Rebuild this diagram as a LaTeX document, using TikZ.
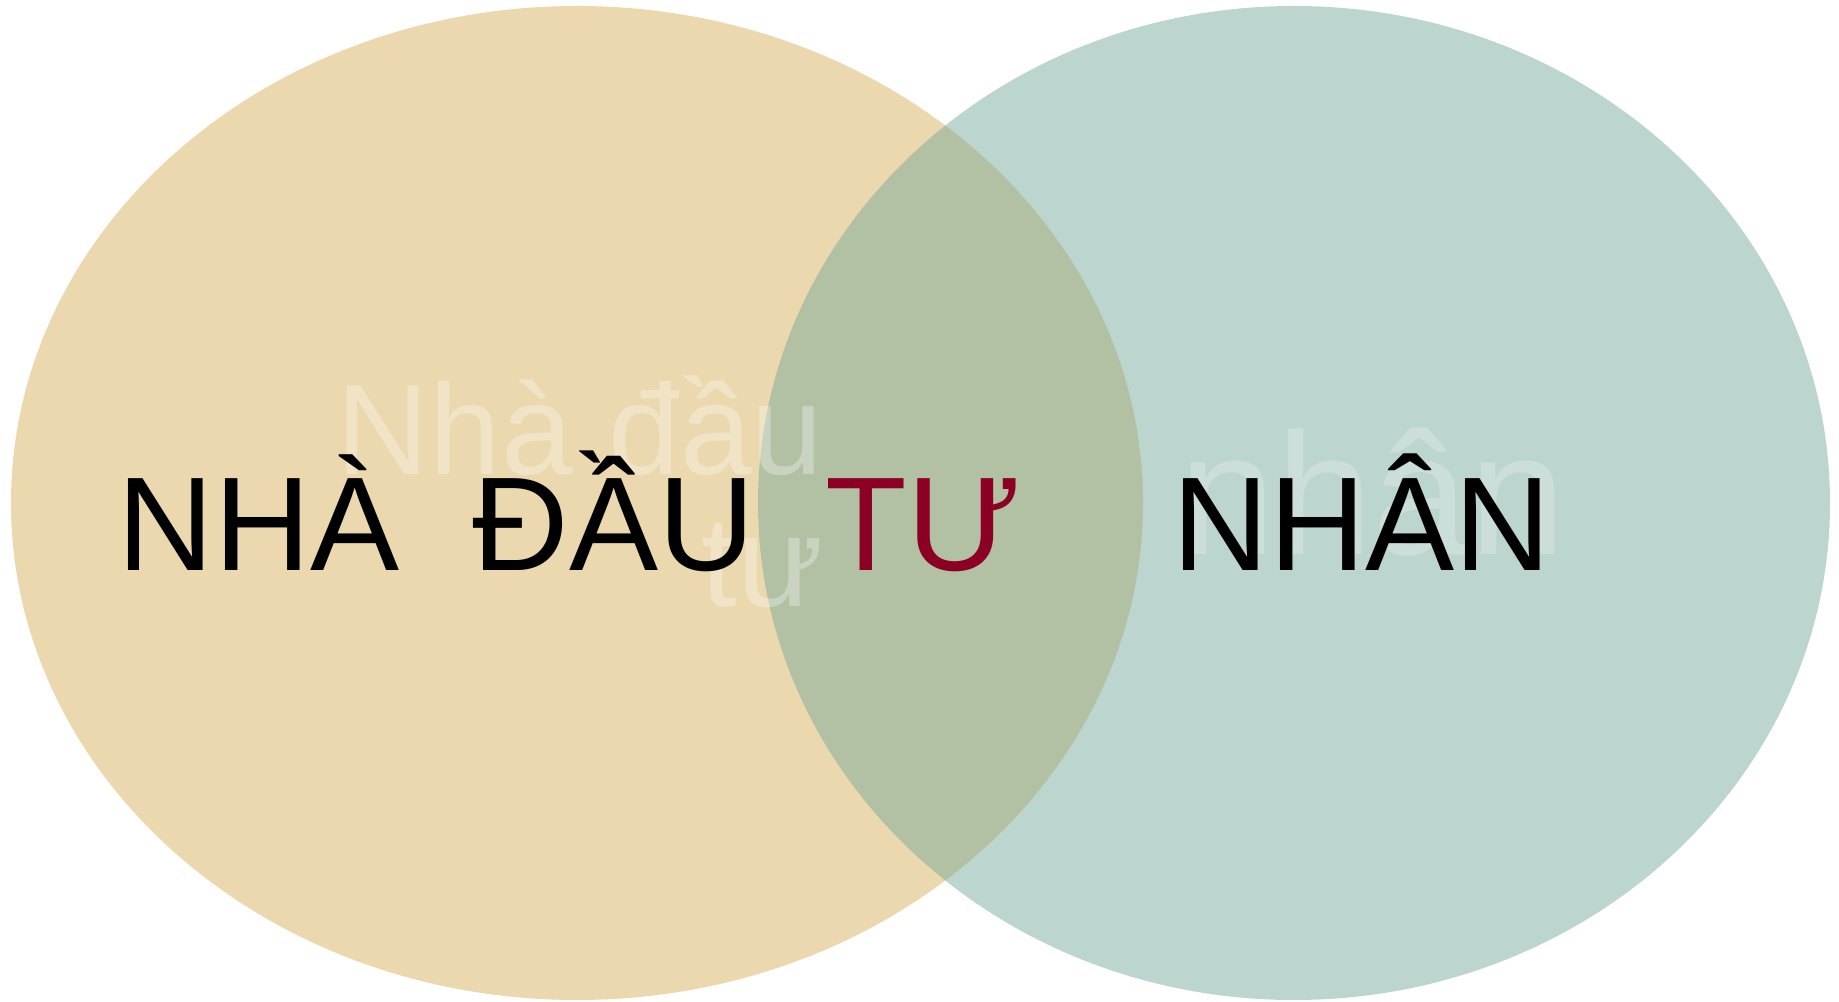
\documentclass[tikz,border=0pt]{standalone}
\usepackage{fontspec}
\setmainfont{Liberation Sans}
\definecolor{sand}{RGB}{235,216,174}
\definecolor{sage}{RGB}{115,166,153}
\definecolor{wine}{RGB}{140,0,35}
\begin{document}
\begin{tikzpicture}
\useasboundingbox (0,0) rectangle (18.39,10.02);
                \begin{scope}
                \fill[sand] (5.77,4.99) ellipse (5.66 and 4.97);
                \fill[sage,opacity=0.47] (12.94,4.99) ellipse (5.36 and 4.97);
                \end{scope}
                \begin{scope}[white,text opacity=0.3,inner sep=0pt]
                \node[anchor=base east,font=\fontsize{36.6}{40}\selectfont] (faintup) at (8.24,5.27) {Nhà đầu};
                \node[anchor=base east,font=\fontsize{36.6}{40}\selectfont] (faintlow) at (8.24,3.95) {tư};
                \node[anchor=base west,font=\fontsize{49.4}{52}\selectfont,text opacity=0.22] (faintright) at (11.79,4.47) {nhân};
                \end{scope}
                \begin{scope}[inner sep=0pt,font=\fontsize{38}{40}\selectfont]
                \node[anchor=base west] (nha) at (1.17,4.31) {NHÀ};
                \node[anchor=base west] (dau) at (4.72,4.31) {ĐẦU};
                \node[anchor=base west,wine] (tu) at (8.25,4.31) {TƯ};
                \node[anchor=base west] (nhan) at (11.72,4.31) {NHÂN};
                \end{scope}
            \end{tikzpicture}
\end{document}
